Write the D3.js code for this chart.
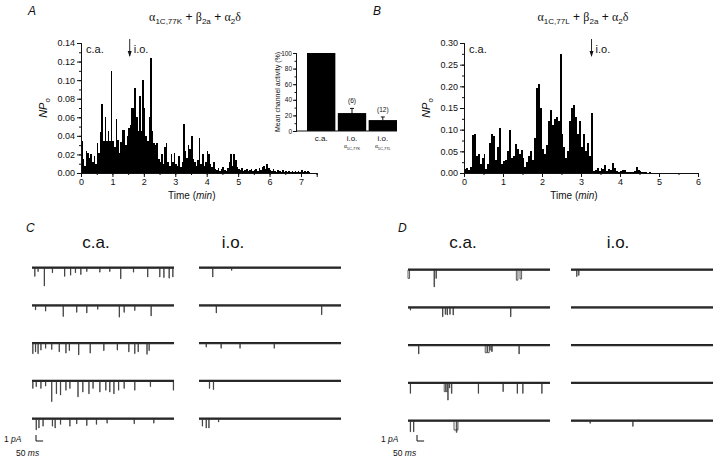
<!DOCTYPE html>
<html>
<head>
<meta charset="utf-8">
<script src="https://cdn.jsdelivr.net/npm/d3@7/dist/d3.min.js"></script>
<style>
  body { margin: 0; background: #fff; }
  text { font-family: "Liberation Sans", Arial, sans-serif; fill: #111; }
</style>
</head>
<body>
<svg id="fig" width="720" height="463"></svg>
<script>
// ---- data ----
const binMin = 0.05; // minutes per bar

// NPo per bin, alpha1C,77K (panel A)
const npoA = [
  0.035, 0.015, 0.008, 0.024, 0.022, 0.016, 0.020, 0.012, 0.018, 0.010,
  0.032, 0.022, 0.044, 0.074, 0.034, 0.060, 0.034, 0.045, 0.034, 0.110,
  0.034, 0.028, 0.058, 0.036, 0.022, 0.033, 0.046, 0.046, 0.030, 0.040,
  0.048, 0.052, 0.070, 0.070, 0.092, 0.060, 0.045, 0.083, 0.045, 0.100,
  0.070, 0.040, 0.035, 0.060, 0.124, 0.045, 0.032, 0.030, 0.032, 0.015,
  0.012, 0.020, 0.010, 0.028, 0.032, 0.012, 0.008, 0.020, 0.012, 0.022,
  0.010, 0.008, 0.018, 0.006, 0.012, 0.053, 0.024, 0.016, 0.030, 0.026,
  0.040, 0.015, 0.012, 0.008, 0.014, 0.038, 0.010, 0.020, 0.008, 0.012,
  0.024, 0.020, 0.010, 0.006, 0.012, 0.004, 0.003, 0.005, 0.002, 0.004,
  0.006, 0.003, 0.002, 0.005, 0.012, 0.020, 0.008, 0.020, 0.014, 0.006,
  0.004, 0.003, 0.005, 0.002, 0.003, 0.004, 0.002, 0.003, 0.004, 0.002,
  0.003, 0.004, 0.002, 0.005, 0.003, 0.006, 0.008, 0.004, 0.010, 0.005,
  0.003, 0.002, 0.004, 0.002, 0.001, 0.003, 0.002, 0.001, 0.003, 0.001,
  0.002, 0.001, 0.002, 0.001, 0.002, 0.001, 0.002, 0.001, 0.002, 0.001,
  0.003, 0.001, 0.002, 0.001, 0.002, 0.001
];

// NPo per bin, alpha1C,77L (panel B)
const npoB = [
  0.010, 0.012, 0.006, 0.014, 0.087, 0.089, 0.040, 0.045, 0.020, 0.035,
  0.045, 0.010, 0.020, 0.070, 0.091, 0.085, 0.030, 0.060, 0.105, 0.020,
  0.028, 0.030, 0.050, 0.099, 0.035, 0.040, 0.066, 0.055, 0.045, 0.052,
  0.035, 0.015, 0.025, 0.040, 0.050, 0.030, 0.080, 0.197, 0.206, 0.150,
  0.055, 0.045, 0.065, 0.120, 0.145, 0.110, 0.125, 0.130, 0.120, 0.275,
  0.090, 0.060, 0.035, 0.050, 0.120, 0.150, 0.158, 0.130, 0.090, 0.120,
  0.060, 0.090, 0.050, 0.070, 0.040, 0.138, 0.005, 0.008, 0.012, 0.004,
  0.012, 0.010, 0.018, 0.004, 0.010, 0.006, 0.022, 0.012, 0.004, 0.003,
  0.005, 0.008, 0.006, 0.003, 0.002, 0.003, 0.002, 0.004, 0.014, 0.008,
  0.004, 0.003, 0.002, 0.002, 0.001, 0.002
];

const washA = 1.55;   // i.o. arrow, min
const washB = 3.27;

// inset: mean channel activity (%)
const insetCats = ["ca", "io77K", "io77L"];
const insetMean = [100, 23, 14];
const insetErr = [0, 6, 4];
const insetN = ["", "(6)", "(12)"];

// single-channel sweeps: [time ms, open duration ms, amplitude pA]
const sweepsCca = [
  [[19,2,1.4],[42,2,0.6],[86,2,3.0],[143,2,0.8],[229,2,1.4],[271,2,1.2],[305,2,0.8],[343,2,1.1],[385,2,0.6],[477,2,0.7],[547,2,0.6],[624,2,1.8],[714,2,0.7],[814,2,1.5],[899,2,1.5],[928,2,1.6],[965,2,1.7],[991,2,1.5]],
  [[24,2,0.7],[95,2,0.9],[219,2,1.8],[314,2,1.1],[385,2,1.2],[462,2,0.6],[614,2,1.9],[648,2,1.1],[723,2,0.8],[838,2,1.7]],
  [[5,2,1.7],[24,2,1.4],[42,2,1.7],[62,2,1.1],[95,2,0.8],[138,2,1.0],[191,2,1.4],[238,2,1.6],[262,2,1.2],[328,2,1.9],[409,2,1.6],[505,2,1.2],[600,2,1.1],[681,2,1.4],[723,2,1.7],[747,2,1.4],[809,2,1.8],[824,2,1.2]],
  [[5,2,1.2],[29,2,0.9],[62,2,1.2],[95,2,0.8],[138,2,3.4],[171,2,2.1],[200,2,2.3],[238,2,1.5],[266,2,1.2],[323,2,2.6],[357,2,1.8],[400,2,2.1],[429,2,1.2],[477,2,1.8],[519,2,1.5],[547,2,1.8],[576,2,2.1],[609,2,1.5],[648,2,1.2],[723,2,1.5],[833,2,0.9],[995,2,1.5]],
  [[29,2,1.8],[48,2,1.5],[77,2,1.2],[143,2,1.2],[162,2,1.5],[200,2,0.9],[266,2,1.2],[314,2,0.8],[385,2,1.1],[453,2,0.9],[528,2,0.7],[719,2,0.8],[857,2,0.7]]
];
const sweepsCio = [
  [[96,2,1.5],[229,2,0.4]],
  [[121,2,1.2],[863,2,1.5]],
  [[50,2,0.6],[155,2,0.8],[288,2,0.8],[529,2,0.8]],
  [[73,2,1.2],[101,2,1.4]],
  [[23,2,1.2],[50,2,1.5],[69,2,1.5],[137,2,0.5]]
];
const sweepsDca = [
  [[0,11,1.4],[183,4,2.8],[197,3,1.4],[763,11,1.7],[789,11,1.5]],
  [[16,2,0.4],[243,3,1.5],[262,3,1.1],[275,3,1.2],[294,3,1.1],[317,3,1.2],[722,3,1.5]],
  [[74,3,1.4],[544,12,1.2],[560,12,1.2],[576,3,0.8],[588,6,1.0],[781,3,1.4]],
  [[16,2,1.7],[255,10,1.4],[268,8,1.4],[280,3,2.8],[292,2,0.8],[306,3,1.7],[495,2,1.7],[669,2,1.4],[769,2,1.7],[808,2,1.7],[942,2,1.7]],
  [[16,2,1.8],[39,2,1.8],[324,28,1.5],[340,4,1.9]]
];
const sweepsDio = [
  [[40,2,1.1],[54,2,0.9]],
  [],
  [],
  [],
  [[134,2,0.4],[435,2,0.9]]
];

// ---- drawing ----
const svg = d3.select('#fig');
svg.append('rect').attr('width', 720).attr('height', 463).attr('fill', '#fff');

function label(g, x, y, txt, size, opt) {
  opt = opt || {};
  return g.append('text').attr('x', x).attr('y', y)
    .attr('font-size', size)
    .attr('text-anchor', opt.anchor || 'start')
    .attr('font-style', opt.italic ? 'italic' : null)
    .text(txt);
}

function title(x, y, sub1) {
  const t = svg.append('text').attr('x', x).attr('y', y)
    .attr('text-anchor', 'middle').attr('font-size', 12);
  t.append('tspan').attr('font-family', 'Liberation Serif').text('α');
  t.append('tspan').attr('font-size', 8).attr('dy', 3).text(sub1);
  t.append('tspan').attr('dy', -3).text(' + ');
  t.append('tspan').attr('font-family', 'Liberation Serif').text('β');
  t.append('tspan').attr('font-size', 8).attr('dy', 3).text('2a');
  t.append('tspan').attr('dy', -3).text(' + ');
  t.append('tspan').attr('font-family', 'Liberation Serif').text('α');
  t.append('tspan').attr('font-size', 8).attr('dy', 3).text('2');
  t.append('tspan').attr('dy', -3).attr('font-family', 'Liberation Serif').text('δ');
}

function styleAxis(g) {
  g.select('.domain').attr('stroke', '#111');
  g.selectAll('.tick line').attr('stroke', '#111');
  g.selectAll('.tick text').attr('font-size', 9).attr('fill', '#222');
}

function hist(opt) {
  const x = d3.scaleLinear().domain([0, opt.xmax]).range([opt.x0, opt.x1]);
  const y = d3.scaleLinear().domain([0, opt.ymax]).range([173, 43]);
  const g = svg.append('g');
  const bw = x(binMin) - x(0);

  g.selectAll('rect.bar').data(opt.data).enter().append('rect')
    .attr('class', 'bar')
    .attr('x', (d, i) => x(i * binMin))
    .attr('width', bw)
    .attr('y', d => y(d))
    .attr('height', d => y(0) - y(d))
    .attr('fill', '#000')
    .attr('shape-rendering', 'crispEdges');

  // minor ticks then major
  g.append('g').attr('transform', `translate(${opt.x0},0)`)
    .call(d3.axisLeft(y).tickValues(d3.range(0, opt.ymax + 1e-9, opt.ystep / 2)).tickSize(2).tickFormat(''))
    .call(styleAxis);
  g.append('g').attr('transform', `translate(${opt.x0},0)`)
    .call(d3.axisLeft(y).tickValues(d3.range(0, opt.ymax + 1e-9, opt.ystep)).tickSize(4).tickPadding(2).tickFormat(d3.format('.2f')))
    .call(styleAxis);
  g.append('g').attr('transform', 'translate(0,173)')
    .call(d3.axisBottom(x).tickValues(d3.range(0, opt.xmax + 1e-9, 0.5)).tickSize(2).tickFormat(''))
    .call(styleAxis);
  g.append('g').attr('transform', 'translate(0,173)')
    .call(d3.axisBottom(x).tickValues(d3.range(0, Math.floor(opt.xmax) + 1e-9, 1)).tickSize(4).tickPadding(2).tickFormat(d3.format('d')))
    .call(styleAxis);

  // NPo
  const yl = g.append('text').attr('transform', `translate(${opt.x0 - 34},108) rotate(-90)`)
    .attr('text-anchor', 'middle').attr('font-size', 11);
  yl.append('tspan').attr('font-style', 'italic').text('NP');
  yl.append('tspan').attr('font-size', 8).attr('dy', 3).text('o');

  const xl = g.append('text').attr('x', x(opt.xmax * 0.47)).attr('y', 199)
    .attr('text-anchor', 'middle').attr('font-size', 10);
  xl.append('tspan').text('Time (');
  xl.append('tspan').attr('font-style', 'italic').text('min');
  xl.append('tspan').text(')');

  label(g, opt.x0 + 5, 53, 'c.a.', 11);
  const ax = x(opt.wash);
  g.append('line').attr('x1', ax).attr('x2', ax).attr('y1', 39).attr('y2', 56)
    .attr('stroke', '#111').attr('stroke-width', 0.9);
  g.append('path').attr('d', `M${ax - 2},51 L${ax},57 L${ax + 2},51 Z`).attr('fill', '#111');
  label(g, ax + 4, 53, 'i.o.', 11);
  return g;
}

label(svg, 28, 15, 'A', 12, { italic: true });
label(svg, 373, 15, 'B', 12, { italic: true });
title(195, 21, '1C,77K');
title(583, 21, '1C,77L');

hist({ data: npoA, xmax: 7.5, x0: 81, x1: 316.7, ymax: 0.14, ystep: 0.02, wash: washA });
hist({ data: npoB, xmax: 6, x0: 464, x1: 698, ymax: 0.30, ystep: 0.05, wash: washB });

// inset bar chart
(function () {
  const g = svg.append('g');
  const y = d3.scaleLinear().domain([0, 100]).range([131, 53]);
  const x = d3.scaleBand().domain(insetCats).range([307, 397]).paddingInner(0.08);
  g.selectAll('rect').data(insetMean).enter().append('rect')
    .attr('x', (d, i) => x(insetCats[i]))
    .attr('width', x.bandwidth())
    .attr('y', d => y(d))
    .attr('height', d => y(0) - y(d))
    .attr('fill', '#000');
  insetMean.forEach((m, i) => {
    if (!insetErr[i]) return;
    const cx = x(insetCats[i]) + x.bandwidth() / 2;
    g.append('line').attr('x1', cx).attr('x2', cx).attr('y1', y(m)).attr('y2', y(m + insetErr[i]))
      .attr('stroke', '#111').attr('stroke-width', 1);
    g.append('line').attr('x1', cx - 2).attr('x2', cx + 2).attr('y1', y(m + insetErr[i])).attr('y2', y(m + insetErr[i]))
      .attr('stroke', '#111').attr('stroke-width', 1);
    label(g, cx, y(m + insetErr[i]) - 5, insetN[i], 6.5, { anchor: 'middle' });
  });
  g.append('g').attr('transform', 'translate(296,0)')
    .call(d3.axisLeft(y).tickValues(d3.range(0, 101, 10)).tickSize(1.5).tickFormat(''))
    .call(styleAxis);
  g.append('g').attr('transform', 'translate(296,0)')
    .call(d3.axisLeft(y).tickValues(d3.range(0, 101, 20)).tickSize(3).tickPadding(1).tickFormat(d3.format('d')))
    .call(styleAxis)
    .selectAll('.tick text').attr('font-size', 6.5);
  g.append('line').attr('x1', 296).attr('x2', 397).attr('y1', 131).attr('y2', 131).attr('stroke', '#111');
  label(g, 0, 0, 'Mean channel activity (%)', 7, { anchor: 'middle' })
    .attr('transform', 'translate(280,92) rotate(-90)');
  const cx = k => x(k) + x.bandwidth() / 2;
  label(g, cx('ca'), 141, 'c.a.', 8, { anchor: 'middle' });
  label(g, cx('io77K'), 141, 'i.o.', 8, { anchor: 'middle' });
  label(g, cx('io77L'), 141, 'i.o.', 8, { anchor: 'middle' });
  [['io77K', '1C,77K'], ['io77L', '1C,77L']].forEach(([k, s]) => {
    const t = g.append('text').attr('x', cx(k)).attr('y', 148).attr('text-anchor', 'middle').attr('font-size', 5.5);
    t.append('tspan').attr('font-family', 'Liberation Serif').text('α');
    t.append('tspan').attr('font-size', 4).attr('dy', 1.5).text(s);
  });
})();

// single-channel sweeps
const pxPerPA = 6;
function sweeps(data, x0, rowTop, rowBottom) {
  const tx = d3.scaleLinear().domain([0, 1000]).range([x0, x0 + 142]);
  const row = d3.scaleLinear().domain([0, 4]).range([rowTop, rowBottom]);
  const line = d3.line().x(d => d[0]).y(d => d[1]);
  data.forEach((events, r) => {
    const b = row(r);
    const ty = pa => b + pa * pxPerPA;
    const pts = [[tx(0), ty(0)]];
    events.forEach(([t, dur, amp]) => {
      pts.push([tx(t), ty(0)], [tx(t), ty(amp)], [tx(t + dur), ty(amp)], [tx(t + dur), ty(0)]);
    });
    pts.push([tx(1000), ty(0)]);
    svg.append('line').attr('x1', tx(0)).attr('x2', tx(1000)).attr('y1', b - 0.3).attr('y2', b - 0.3)
      .attr('stroke', '#222').attr('stroke-width', 2.2);
    svg.append('path').attr('d', line(pts)).attr('fill', 'none')
      .attr('stroke', '#333').attr('stroke-width', 0.8);
  });
  return tx;
}

function scaleBar(tx, x0, y0, lx) {
  const len = tx(50) - tx(0);
  svg.append('path').attr('d', `M${x0},${y0 - pxPerPA} L${x0},${y0} L${x0 + len},${y0}`)
    .attr('fill', 'none').attr('stroke', '#111').attr('stroke-width', 1);
  const a = label(svg, lx, y0 + 1, '1 ', 8.5);
  a.append('tspan').attr('font-style', 'italic').text('pA');
  const b = label(svg, lx + 12, y0 + 15, '50 ', 8.5);
  b.append('tspan').attr('font-style', 'italic').text('ms');
}

label(svg, 26, 232, 'C', 12, { italic: true });
label(svg, 96, 248, 'c.a.', 17, { anchor: 'middle' });
label(svg, 233, 248, 'i.o.', 17, { anchor: 'middle' });
const txC = sweeps(sweepsCca, 32, 268, 419);
sweeps(sweepsCio, 199, 268, 419);
scaleBar(txC, 36, 441, 4);

label(svg, 398, 232, 'D', 12, { italic: true });
label(svg, 463, 248, 'c.a.', 17, { anchor: 'middle' });
label(svg, 618, 248, 'i.o.', 17, { anchor: 'middle' });
const txD = sweeps(sweepsDca, 408, 270, 421);
sweeps(sweepsDio, 571, 270, 421);
scaleBar(txD, 417, 441, 381);
</script>
</body>
</html>
